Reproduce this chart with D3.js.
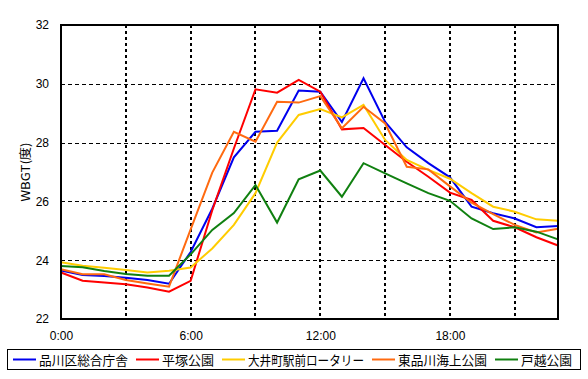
<!DOCTYPE html>
<html><head><meta charset="utf-8">
<script src="https://cdn.jsdelivr.net/npm/d3@7"></script>
<style>body{margin:0;background:#fff}svg{display:block}</style>
</head><body><svg id="c" width="588" height="379"></svg>
<script>
const hours = d3.range(0, 24);
const xTicks = [0, 6, 12, 18];
const xTickLabels = ["0:00", "6:00", "12:00", "18:00"];
const yTicks = [22, 24, 26, 28, 30, 32];
const seriesNames = ["品川区総合庁舎", "平塚公園", "大井町駅前ロータリー", "東品川海上公園", "戸越公園"];
const seriesColors = ["#0000ee", "#ff0000", "#ffcc00", "#ff6a10", "#108010"];
const shinagawa = [23.65,23.5,23.46,23.4,23.33,23.2,24.28,25.75,27.5,28.37,28.4,29.77,29.73,28.7,30.19,28.7,27.84,27.3,26.82,25.82,25.6,25.42,25.12,25.16];
const hiratsuka = [23.58,23.3,23.24,23.18,23.07,22.93,23.3,25.7,27.8,29.81,29.7,30.13,29.73,28.45,28.5,27.92,27.35,26.84,26.3,26.05,25.34,25.12,24.78,24.5];
const ooimachi = [23.93,23.81,23.74,23.67,23.58,23.64,23.75,24.4,25.2,26.28,28.0,28.94,29.14,28.86,29.28,28.09,27.41,27.07,26.77,26.28,25.82,25.65,25.39,25.34];
const higashi = [23.69,23.52,23.52,23.33,23.21,23.1,25.05,26.98,28.37,28.03,29.39,29.36,29.58,28.49,29.22,28.65,27.18,27.09,26.51,25.96,25.57,25.2,24.94,25.07];
const togoshi = [23.8,23.76,23.63,23.53,23.47,23.47,24.2,25.03,25.6,26.56,25.28,26.75,27.05,26.16,27.3,26.95,26.61,26.28,26.02,25.42,25.06,25.12,24.97,24.71];
const seriesValues = [shinagawa, hiratsuka, ooimachi, higashi, togoshi];

const svg = d3.select("#c");
const L = 61, R = 558, T = 25, B = 319;
const x = d3.scaleLinear().domain([0, 23]).range([L, R]);
const y = d3.scaleLinear().domain([22, 32]).range([B, T]);

// grid
svg.append("g").selectAll("line").data(d3.range(3, 23, 3)).join("line")
  .attr("x1", d => Math.round(x(d))).attr("x2", d => Math.round(x(d)))
  .attr("y1", T).attr("y2", B)
  .attr("stroke", "#000").attr("stroke-width", 2).attr("stroke-dasharray", "3,3");
svg.append("g").selectAll("line").data([24, 26, 28, 30]).join("line")
  .attr("x1", L).attr("x2", R)
  .attr("y1", d => Math.round(y(d)) + 0.5).attr("y2", d => Math.round(y(d)) + 0.5)
  .attr("stroke", "#000").attr("stroke-width", 1).attr("stroke-dasharray", "4,3");

// series
const line = d3.line().x((d, i) => x(hours[i])).y(d => y(d));
seriesValues.forEach((vals, k) => {
  svg.append("path").datum(vals).attr("d", line)
    .attr("fill", "none").attr("stroke", seriesColors[k]).attr("stroke-width", 2)
    .attr("stroke-linejoin", "miter");
});

// frame
svg.append("rect").attr("x", L).attr("y", T).attr("width", R - L).attr("height", B - T)
  .attr("fill", "none").attr("stroke", "#000").attr("stroke-width", 2);

// axes labels
const yAxis = d3.axisLeft(y).tickValues(yTicks).tickSize(0).tickPadding(12).tickFormat(d3.format("d"));
const gy = svg.append("g").attr("transform", `translate(${L},0)`).call(yAxis);
const xAxis = d3.axisBottom(x).tickValues(xTicks).tickSize(0).tickPadding(12)
  .tickFormat((d, i) => xTickLabels[i]);
const gx = svg.append("g").attr("transform", `translate(0,${B})`).call(xAxis);
[gx, gy].forEach(g => {
  g.select(".domain").remove();
  g.selectAll("text").attr("font-family", "Liberation Sans, Arial, sans-serif")
    .attr("font-size", 12).attr("fill", "#000");
});

svg.append("text").attr("transform", "translate(30,172) rotate(-90)")
  .attr("text-anchor", "middle").attr("font-family", "Noto Sans CJK JP, sans-serif")
  .attr("font-size", 12).attr("textLength", 59).attr("lengthAdjust", "spacingAndGlyphs")
  .attr("fill", "#000").text("WBGT(度)");

// legend
const legendWidths = [89, 52, 116, 89, 51];
const lg = svg.append("g");
lg.append("rect").attr("x", 7.5).attr("y", 349.5).attr("width", 573).attr("height", 20)
  .attr("fill", "#fff").attr("stroke", "#000").attr("stroke-width", 1);
let cx = 13;
seriesNames.forEach((n, k) => {
  lg.append("line").attr("x1", cx).attr("x2", cx + 23).attr("y1", 359.5).attr("y2", 359.5)
    .attr("stroke", seriesColors[k]).attr("stroke-width", 2);
  lg.append("text").attr("x", cx + 26).attr("y", 364.5)
    .attr("font-family", "Noto Sans CJK JP, sans-serif").attr("font-size", 13)
    .attr("textLength", legendWidths[k]).attr("lengthAdjust", "spacingAndGlyphs")
    .attr("fill", "#000").text(n);
  cx += 26 + legendWidths[k] + 8;
});
</script></body></html>
